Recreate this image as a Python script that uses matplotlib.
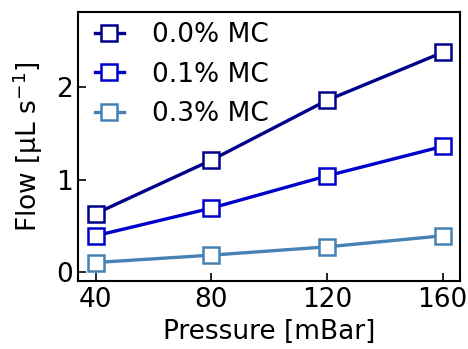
import matplotlib
matplotlib.use("Agg")
import matplotlib.pyplot as plt

pressure = [40, 80, 120, 160]
flow_00 = [0.63, 1.21, 1.86, 2.38]
flow_01 = [0.39, 0.69, 1.04, 1.36]
flow_03 = [0.10, 0.18, 0.27, 0.39]
labels = ["0.0% MC", "0.1% MC", "0.3% MC"]
colors = ["darkblue", "mediumblue", "steelblue"]

plt.rcParams['font.size'] = 19

fig = plt.figure(figsize=(4.68, 3.49), dpi=100)
ax = fig.add_axes([0.167, 0.195, 0.816, 0.771])

for ys, lab, c in zip([flow_00, flow_01, flow_03], labels, colors):
    ax.plot(pressure, ys, '-s', color=c, lw=2.4, markersize=11,
            markerfacecolor='white', markeredgewidth=1.8, label=lab)

ax.set_xticks([40, 80, 120, 160])
ax.set_yticks([0, 1, 2])
ax.set_ylim(-0.1, 2.82)
ax.tick_params(direction='in', length=6, width=1.2, labelsize=19, pad=4)
for s in ax.spines.values():
    s.set_linewidth(1.5)

ax.set_xlabel('Pressure [mBar]', fontsize=19, labelpad=5)
ax.set_ylabel(r'Flow [$\mathrm{\mu}$L s$^{-1}$]', fontsize=19, labelpad=8)
ax.legend(loc='upper left', bbox_to_anchor=(0.016, 1.0), frameon=False,
          fontsize=19, handlelength=1.1, handletextpad=1.05,
          borderaxespad=0.2, borderpad=0.2, labelspacing=0.5)

fig.savefig("out.png", dpi=100)
